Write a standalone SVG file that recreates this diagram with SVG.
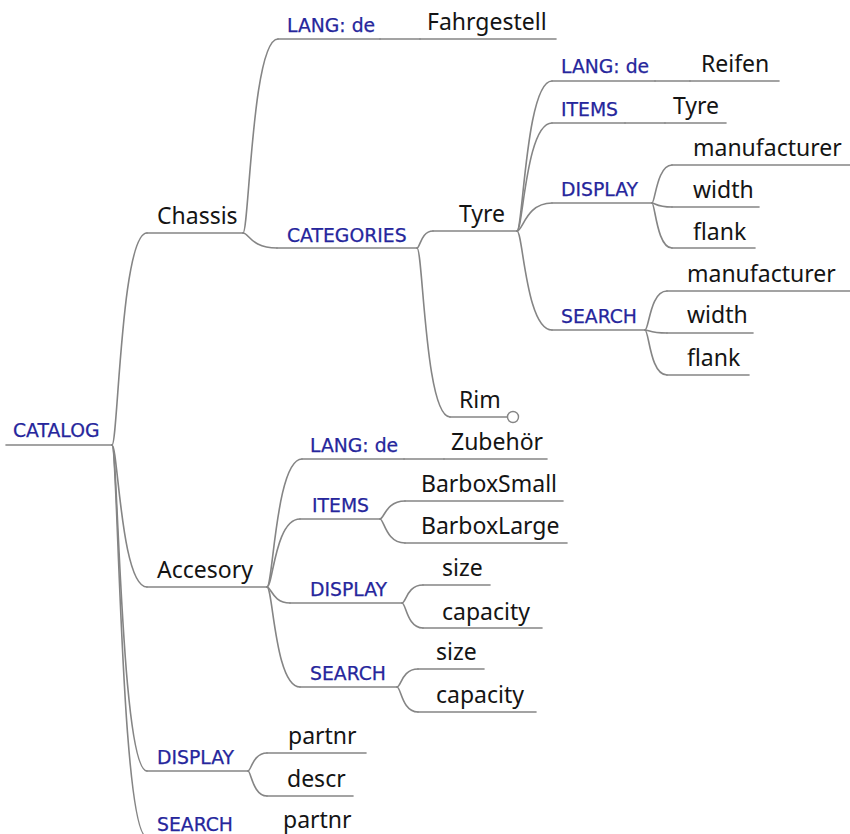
<svg xmlns="http://www.w3.org/2000/svg" width="850" height="834" viewBox="0 0 850 834">
  <style>
    .ln { fill: none; stroke: #858585; stroke-width: 1.6; stroke-linecap: round; }
    .k { font-family: "Noto Sans", "Open Sans", sans-serif; font-size: 23px; fill: #141414; }
    .b { font-family: "DejaVu Sans", Verdana, sans-serif; font-size: 18.8px; fill: #26269c; stroke: #26269c; stroke-width: 0.25; }
    .fold { fill: #ffffff; stroke: #858585; stroke-width: 1.4; }
  </style>
  <rect width="850" height="834" fill="#ffffff"/>

  <!-- edges between nodes -->
  <g id="connectors" class="ln">
    <path d="M112,445 C118,445 121,233 147,233"/>
    <path d="M112,445 C118,445 121,587 147,587"/>
    <path d="M112,445 C118,445 121,771 147,771"/>
    <path d="M112,445 C118,445 121,837 147,837"/>

    <path d="M243,233 C249,233 252,39 278,39"/>
    <path d="M243,233 C249,233 251,248 277,248"/>
    <path d="M380,39 H420"/>

    <path d="M417,248 C420,248 421,231 433,231"/>
    <path d="M417,248 C423,248 425,417 450,417"/>

    <path d="M517,231 C523,231 526,81 552,81"/>
    <path d="M517,231 C523,231 526,123 552,123"/>
    <path d="M517,231 C523,231 526,203 552,203"/>
    <path d="M517,231 C523,231 526,330 552,330"/>
    <path d="M655,81 H690"/>
    <path d="M625,123 H665"/>

    <path d="M652,203 C655,203 657,165 672,165"/>
    <path d="M652,203 C655,203 657,207 672,207"/>
    <path d="M652,203 C655,203 657,248 672,248"/>

    <path d="M645,330 C649,330 650,291 667,291"/>
    <path d="M645,330 C649,330 650,333 667,333"/>
    <path d="M645,330 C649,330 650,375 667,375"/>

    <path d="M267,587 C273,587 276,459 302,459"/>
    <path d="M267,587 C273,587 275,519 300,519"/>
    <path d="M267,587 C271,587 273,603 290,603"/>
    <path d="M267,587 C273,587 275,687 300,687"/>
    <path d="M404,459 H444"/>

    <path d="M380,519 C384,519 386,501 405,501"/>
    <path d="M380,519 C384,519 386,543 405,543"/>

    <path d="M402,603 C406,603 407,585 423,585"/>
    <path d="M402,603 C406,603 407,628 423,628"/>

    <path d="M397,687 C401,687 402,669 418,669"/>
    <path d="M397,687 C401,687 402,712 418,712"/>

    <path d="M248,771 C251,771 253,753 267,753"/>
    <path d="M248,771 C251,771 253,796 267,796"/>
    <path d="M240,837 H262"/>
  </g>

  <!-- root -->
  <g id="catalog"><path class="ln" d="M6,445 H112"/><text class="b" x="13" y="437">CATALOG</text></g>

  <!-- Chassis branch -->
  <g id="chassis"><path class="ln" d="M147,233 H243"/><text class="k" x="157" y="224">Chassis</text></g>
  <g id="chassis-lang"><path class="ln" d="M278,39 H380"/><text class="b" x="287" y="32">LANG: de</text></g>
  <g id="fahrgestell"><path class="ln" d="M420,39 H556"/><text class="k" x="427" y="30">Fahrgestell</text></g>
  <g id="chassis-categories"><path class="ln" d="M277,248 H417"/><text class="b" x="287" y="242">CATEGORIES</text></g>

  <g id="tyre"><path class="ln" d="M433,231 H517"/><text class="k" x="459" y="222">Tyre</text></g>
  <g id="tyre-lang"><path class="ln" d="M552,81 H655"/><text class="b" x="561" y="73">LANG: de</text></g>
  <g id="reifen"><path class="ln" d="M690,81 H779"/><text class="k" x="701" y="72">Reifen</text></g>
  <g id="tyre-items"><path class="ln" d="M552,123 H625"/><text class="b" x="561" y="116">ITEMS</text></g>
  <g id="tyre-item"><path class="ln" d="M665,123 H726"/><text class="k" x="673" y="114">Tyre</text></g>
  <g id="tyre-display"><path class="ln" d="M552,203 H652"/><text class="b" x="561" y="196">DISPLAY</text></g>
  <g id="tyre-display-manufacturer"><path class="ln" d="M672,165 H852"/><text class="k" x="693" y="156">manufacturer</text></g>
  <g id="tyre-display-width"><path class="ln" d="M672,207 H759"/><text class="k" x="693" y="198">width</text></g>
  <g id="tyre-display-flank"><path class="ln" d="M672,248 H755"/><text class="k" x="693" y="240">flank</text></g>
  <g id="tyre-search"><path class="ln" d="M552,330 H645"/><text class="b" x="561" y="323">SEARCH</text></g>
  <g id="tyre-search-manufacturer"><path class="ln" d="M667,291 H852"/><text class="k" x="687" y="282">manufacturer</text></g>
  <g id="tyre-search-width"><path class="ln" d="M667,333 H753"/><text class="k" x="687" y="323">width</text></g>
  <g id="tyre-search-flank"><path class="ln" d="M667,375 H749"/><text class="k" x="687" y="366">flank</text></g>

  <g id="rim"><path class="ln" d="M450,417 H507.5"/><circle class="fold" cx="513" cy="417" r="5.5"/><text class="k" x="459" y="408">Rim</text></g>

  <!-- Accesory branch -->
  <g id="accesory"><path class="ln" d="M147,587 H267"/><text class="k" x="157" y="578">Accesory</text></g>
  <g id="accesory-lang"><path class="ln" d="M302,459 H404"/><text class="b" x="310" y="452">LANG: de</text></g>
  <g id="zubehoer"><path class="ln" d="M444,459 H547"/><text class="k" x="451" y="450">Zubehör</text></g>
  <g id="accesory-items"><path class="ln" d="M300,519 H380"/><text class="b" x="312" y="512">ITEMS</text></g>
  <g id="barbox-small"><path class="ln" d="M405,501 H563"/><text class="k" x="421" y="492">BarboxSmall</text></g>
  <g id="barbox-large"><path class="ln" d="M405,543 H567"/><text class="k" x="421" y="534">BarboxLarge</text></g>
  <g id="accesory-display"><path class="ln" d="M290,603 H402"/><text class="b" x="310" y="596">DISPLAY</text></g>
  <g id="accesory-display-size"><path class="ln" d="M423,585 H490"/><text class="k" x="442" y="576">size</text></g>
  <g id="accesory-display-capacity"><path class="ln" d="M423,628 H542"/><text class="k" x="442" y="620">capacity</text></g>
  <g id="accesory-search"><path class="ln" d="M300,687 H397"/><text class="b" x="310" y="680">SEARCH</text></g>
  <g id="accesory-search-size"><path class="ln" d="M418,669 H484"/><text class="k" x="436" y="660">size</text></g>
  <g id="accesory-search-capacity"><path class="ln" d="M418,712 H536"/><text class="k" x="436" y="703">capacity</text></g>

  <!-- catalog-level display / search -->
  <g id="catalog-display"><path class="ln" d="M147,771 H248"/><text class="b" x="157" y="764">DISPLAY</text></g>
  <g id="catalog-display-partnr"><path class="ln" d="M267,753 H366"/><text class="k" x="288" y="744">partnr</text></g>
  <g id="catalog-display-descr"><path class="ln" d="M267,796 H353"/><text class="k" x="287" y="787">descr</text></g>
  <g id="catalog-search"><path class="ln" d="M147,837 H240"/><text class="b" x="157" y="831">SEARCH</text></g>
  <g id="catalog-search-partnr"><path class="ln" d="M262,837 H360"/><text class="k" x="283" y="828">partnr</text></g>
</svg>
